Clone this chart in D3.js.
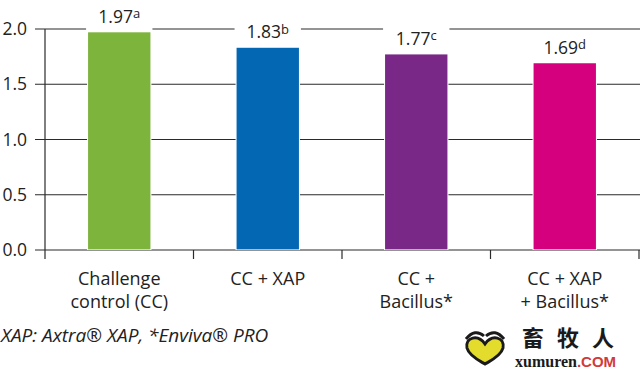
<!DOCTYPE html>
<html>
<head>
<meta charset="utf-8">
<script src="https://cdn.jsdelivr.net/npm/d3@7"></script>
<style>
  html, body { margin: 0; padding: 0; background: #fff; }
  svg { display: block; font-family: "Open Sans", sans-serif; }
</style>
</head>
<body>
<svg id="chart" width="640" height="372"></svg>
<script>
// ---- data ----
const categories = ["Challenge control (CC)", "CC + XAP", "CC + Bacillus*", "CC + XAP + Bacillus*"];
const categoryLines = [["Challenge", "control (CC)"], ["CC + XAP"], ["CC +", "Bacillus*"], ["CC + XAP", "+ Bacillus*"]];
const values = [1.97, 1.83, 1.77, 1.69];
const letters = ["a", "b", "c", "d"];
const colors = ["#7db43c", "#0467b4", "#7a2888", "#d5007e"];
const yTicks = [0, 0.5, 1.0, 1.5, 2.0];
const footnote = "XAP: Axtra\u00AE XAP, *Enviva\u00AE PRO";

const svg = d3.select("#chart");
const plotL = 45, plotR = 639, plotT = 29, plotB = 250;

const x = d3.scaleBand().domain(categories).range([plotL, plotR]).paddingInner(0.58).paddingOuter(0.29);
const xb = d3.scaleBand().domain(categories).range([plotL, plotR]).padding(0);
const y = d3.scaleLinear().domain([0, 2]).range([plotB, plotT]);

// gridlines (act as ticks)
svg.append("g").selectAll("line").data(yTicks).join("line")
  .attr("x1", plotL - 10).attr("x2", 640)
  .attr("y1", d => y(d)).attr("y2", d => y(d))
  .attr("stroke", "#2a2a2a").attr("stroke-width", 1.2);

// y tick labels
svg.append("g").selectAll("text").data(yTicks).join("text")
  .attr("x", 27).attr("y", d => y(d) + 6)
  .attr("text-anchor", "end")
  .attr("font-size", 17.5).attr("fill", "#222")
  .text(d3.format(".1f"));

// y axis line
svg.append("line").attr("x1", plotL).attr("x2", plotL)
  .attr("y1", y(2)).attr("y2", plotB + 9)
  .attr("stroke", "#2a2a2a").attr("stroke-width", 1.2);

// category boundary ticks
const bounds = categories.map(c => xb(c)).concat([xb(categories[categories.length - 1]) + xb.bandwidth()]);
svg.append("g").selectAll("line").data(bounds.slice(1)).join("line")
  .attr("x1", d => d).attr("x2", d => d)
  .attr("y1", plotB).attr("y2", plotB + 9)
  .attr("stroke", "#2a2a2a").attr("stroke-width", 1.2);

// white label backgrounds (break gridlines above bars)
svg.append("g").selectAll("rect").data(values).join("rect")
  .attr("x", (d, i) => x(categories[i]) - 2)
  .attr("width", x.bandwidth() + 4)
  .attr("y", d => y(d) - 30)
  .attr("height", 30)
  .attr("fill", "#fff");

// halo + bars
svg.append("g").selectAll("rect").data(values).join("rect")
  .attr("x", (d, i) => x(categories[i]) - 1)
  .attr("width", x.bandwidth() + 2)
  .attr("y", d => y(d))
  .attr("height", d => plotB - y(d))
  .attr("fill", "#fff");
svg.append("g").selectAll("rect").data(values).join("rect")
  .attr("x", (d, i) => x(categories[i]))
  .attr("width", x.bandwidth())
  .attr("y", d => y(d))
  .attr("height", d => plotB - y(d) - 0.6)
  .attr("fill", (d, i) => colors[i]);

// value labels
const vl = svg.append("g").selectAll("text").data(values).join("text")
  .attr("x", (d, i) => x(categories[i]) + x.bandwidth() / 2)
  .attr("y", d => y(d) - 9.5)
  .attr("text-anchor", "middle")
  .attr("font-size", 17.5).attr("fill", "#222");
vl.append("tspan").text(d => d.toFixed(2));
vl.append("tspan").attr("font-size", 13).attr("dy", -4.5).text((d, i) => letters[i]);

// category labels
svg.append("g").selectAll("text").data(categories).join("text")
  .attr("x", d => x(d) + x.bandwidth() / 2)
  .attr("y", 285)
  .attr("text-anchor", "middle")
  .attr("font-size", 18).attr("fill", "#222")
  .selectAll("tspan").data((d, i) => categoryLines[i]).join("tspan")
  .attr("x", function() { return this.parentNode.getAttribute("x"); })
  .attr("dy", (d, i) => i === 0 ? 0 : 23)
  .text(d => d);

// footnote
svg.append("text").attr("x", 1).attr("y", 342)
  .attr("font-size", 19).attr("font-style", "italic").attr("fill", "#222")
  .text(footnote);

// watermark logo
const logo = svg.append("g");
logo.append("path")
  .attr("d", "M485,344 C478,334 465,337 467,348 C469,356 480,361 485,364 C490,361 501,356 503,348 C505,337 492,334 485,344 Z")
  .attr("fill", "#e4dc2c").attr("stroke", "#1a1a1a").attr("stroke-width", 3);
logo.append("path").attr("d", "M466,339 Q475,328 484,336").attr("fill", "none").attr("stroke", "#1a1a1a").attr("stroke-width", 3);
logo.append("path").attr("d", "M486,336 Q495,328 504,339").attr("fill", "none").attr("stroke", "#1a1a1a").attr("stroke-width", 3);
logo.append("text").attr("x", 522).attr("y", 346)
  .attr("font-family", "'Noto Sans CJK SC', sans-serif").attr("font-weight", 700)
  .attr("font-size", 22).attr("letter-spacing", 13).attr("fill", "#1a1a1a")
  .text("畜牧人");
const wm = logo.append("text").attr("x", 515).attr("y", 367)
  .attr("font-family", "'Liberation Serif', serif").attr("font-weight", 700)
  .attr("font-size", 16).attr("fill", "#1a1a1a");
wm.append("tspan").text("xumuren");
wm.append("tspan").attr("font-family", "'Liberation Sans', sans-serif").attr("font-size", 15).attr("fill", "#d23a3a").text(".COM");
</script>
</body>
</html>
